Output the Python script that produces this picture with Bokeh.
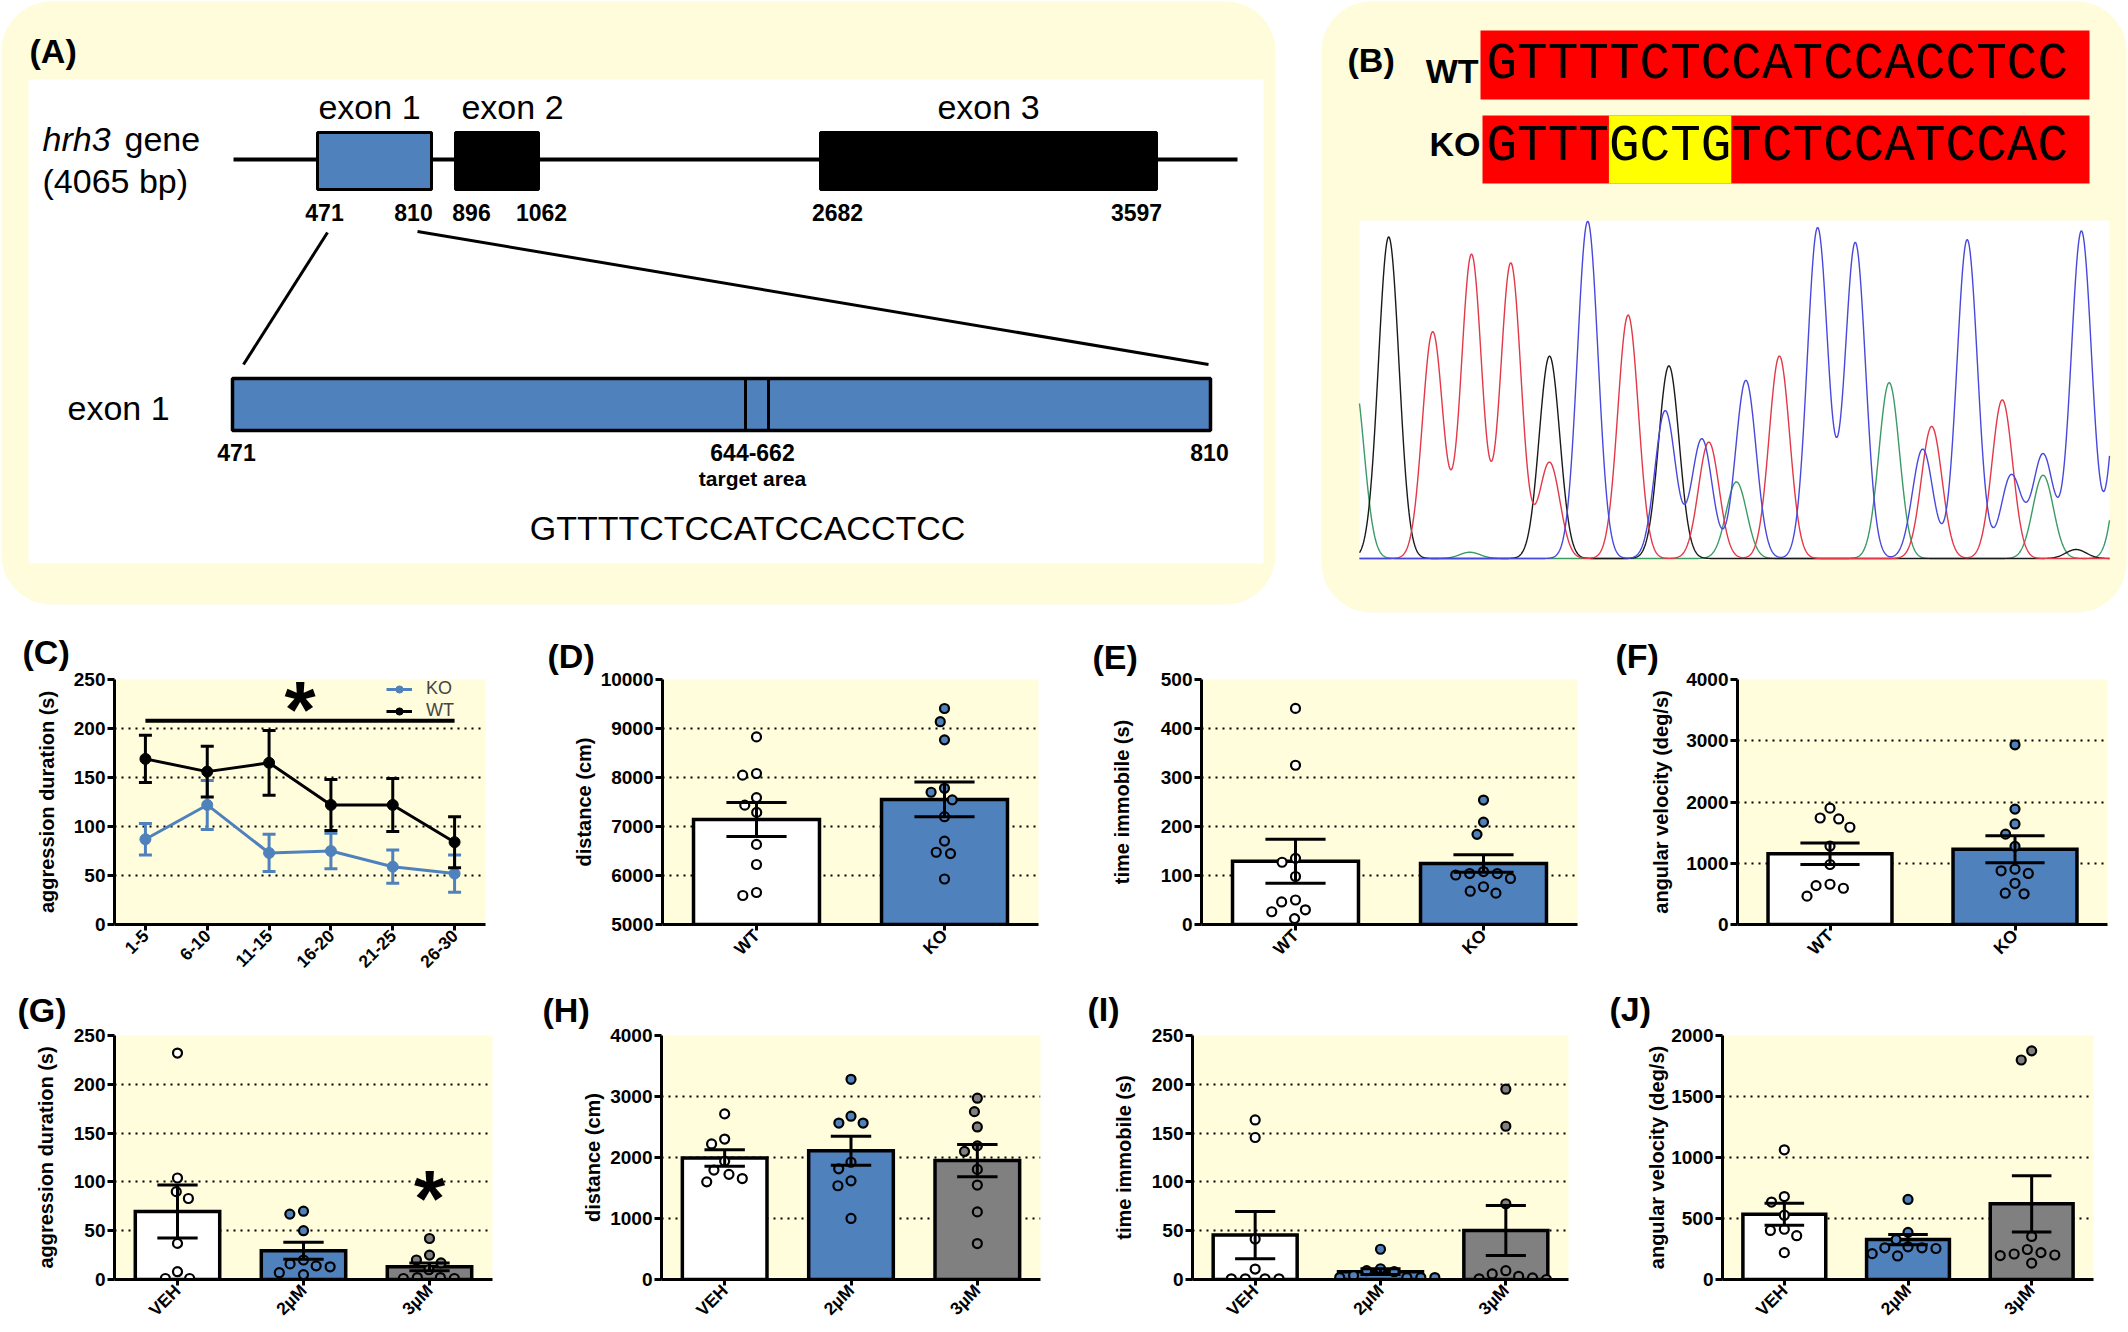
import numpy as np
from math import pi
from bokeh.plotting import figure
from bokeh.layouts import column, row
from bokeh.models import (Range1d, FixedTicker, BoxAnnotation, Legend, LegendItem,
                          CustomJSTickFormatter)
from bokeh.core.properties import value
from bokeh.embed import file_html
from bokeh.resources import INLINE

# ============================ DATA ============================
# (A) gene structure
gene_name = "hrh3"
gene_word = "gene"
gene_size_label = "(4065 bp)"
exon_labels = ["exon 1", "exon 2", "exon 3"]
exon_starts = [471, 896, 2682]
exon_ends = [810, 1062, 3597]
target_start, target_end = 644, 662
target_label = "target area"
target_sequence = "GTTTTCTCCATCCACCTCC"

# (B) sequences and chromatogram peaks (scan position, signal)
wt_sequence = "GTTTTCTCCATCCACCTCC"
ko_sequence = "GTTTGCTGTCTCCATCCAC"
ko_insert = (4, 8)
chrom_black_pos = [29.2, 190.0, 309.4, 716.6]
chrom_black_sig = [1646, 1036, 986, 46]
chrom_red_pos = [73.2, 112.0, 151.3, 190.0, 268.6, 349.3, 419.9, 572.2, 642.8]
chrom_red_sig = [1160, 1556, 1512, 492, 1246, 596, 1036, 676, 812]
chrom_blue_pos = [228.2, 305.7, 342.4, 386.4, 458.1, 495.8, 563.2, 607.7, 651.8, 683.6, 721.9, 765.0]
chrom_blue_sig = [1726, 756, 612, 912, 1692, 1616, 560, 1632, 426, 532, 1676, 1400]
chrom_green_pos = [-6.0, 110.4, 376.9, 529.7, 683.6, 768.0]
chrom_green_sig = [940, 32, 392, 900, 426, 900]

# (C) aggression over time
c_bins = ["1-5", "6-10", "11-15", "16-20", "21-25", "26-30"]
c_wt_mean = [169, 156, 165, 122, 122, 84]
c_wt_sem = [24, 26, 33, 26, 27, 26]
c_ko_mean = [87, 122, 73, 75, 59, 52]
c_ko_sem = [16, 25, 19, 18, 17, 19]
c_sig_span = ("1-5", "26-30")
c_sig_level = 208
c_sig_mark_level = 229

genotypes = ["WT", "KO"]
doses = ["VEH", "2µM", "3µM"]

# (D) distance
d_wt = [8829, 8082, 8048, 7590, 7436, 7288, 6635, 6225, 5592, 5653]
d_ko = [9408, 9139, 8768, 7779, 7699, 7544, 7200, 6702, 6474, 6447, 5929]
d_mean = [7143, 7553]
d_sem = [346, 353]
# (E) time immobile
e_wt = [441, 325, 135, 127, 98, 50, 46, 30, 26, 12]
e_ko = [254, 209, 184, 108, 104, 101, 104, 94, 77, 64, 68]
e_mean = [129, 124.5]
e_sem = [45, 18]
# (F) angular velocity
f_wt = [1900, 1723, 1739, 1588, 1281, 980, 635, 463, 592, 657]
f_ko = [2934, 1884, 1642, 1475, 1276, 877, 834, 904, 673, 501, 511]
f_mean = [1155, 1227]
f_sem = [175, 220]
# (G) aggression duration, drug
g_veh = [232, 104, 83, 90, 37, 8, 1, 1]
g_2um = [70, 67, 50, 20, 16, 13, 14, 7, 5]
g_3um = [42, 25, 20, 17, 10, 2, 1, 1, 2]
g_mean = [69.6, 29.4, 13]
g_sem = [27.2, 8.7, 4]
g_sig_group = "3µM"
g_sig_mark_level = 92
# (H) distance, drug
h_veh = [2715, 2302, 2222, 1938, 1794, 1724, 1655, 1601]
h_2um = [3282, 2565, 2565, 2677, 1922, 1815, 1617, 1537, 1001]
h_3um = [2972, 2752, 2501, 2190, 2099, 1805, 1548, 1108, 589]
h_mean = [1992, 2110, 1949]
h_sem = [137, 238, 265]
# (I) time immobile, drug
i_veh = [163.5, 145.5, 41.5, 10.7, 0.7, 0.7, 0.7, 0.7]
i_2um = [31, 9, 4, 11, 8, 2, 2, 2, 2]
i_3um = [195, 157, 77.6, 5.7, 1.7, 0, 0.7, 3.3, 9]
i_mean = [45.5, 8, 50.2]
i_sem = [24.3, 3, 25.6]
# (J) angular velocity, drug
j_veh = [1063, 680, 635, 527, 402, 412, 359, 220]
j_2um = [656, 386, 327, 260, 254, 260, 268, 193, 212]
j_3um = [1874, 1799, 353, 220, 201, 196, 209, 246, 134]
j_mean = [535, 327, 620]
j_sem = [90, 42, 230]

# ============================ STYLE / LAYOUT ============================
FONT = "Liberation Sans"
MONO = "Liberation Mono"
BOX_YELLOW = "#FEFCDA"
PLOT_BG = "#FFFDDC"
BLUE = "#4F81BD"
GREY = "#808080"
RED = "#FF0000"
HILITE = "#FFFF00"

PAGE_W = 2128
COLS = [(0, 530), (530, 1060), (1060, 1590), (1590, PAGE_W)]
TOP_ROW = (0, 618)
ROW1 = (618, 978)
ROW2 = (978, 1330)
FRAMES = {
    "C": (114, 485, 678, 924), "D": (662, 1038, 679, 927),
    "E": (1201, 1577, 679, 927), "F": (1737, 2107, 679, 927),
    "G": (114, 492, 1033, 1282), "H": (661, 1040, 1033, 1282),
    "I": (1192, 1568, 1035, 1284), "J": (1722, 2093, 1035, 1284),
}
# panel letters: left edge and top of the ink
LETTERS = {
    "C": (22, 637), "D": (547, 642), "E": (1092, 643), "F": (1615, 642),
    "G": (17, 988), "H": (542, 992), "I": (1087, 993), "J": (1609, 992),
}
LETTER_PX = 34
LETTER_BOX_H = 38
BAR_W = 0.67
CAP_HALF = 0.16
PEAK_SIGMA = 10.3
STAR_PX = 80
STAR_DY = 9
MID = {FONT: 0.3465, MONO: 0.2665}   # baseline lies this many em below a "middle" anchor


def txt(p, x, base, s, size, style="normal", align="left", font=FONT, color="black", **kw):
    """Place text so that its baseline sits at `base`."""
    p.text(x=[x], y=[base - MID[font] * size], text=[s], text_font=value(font),
           text_font_size=value(f"{size}px"), text_font_style=value(style),
           text_align=value(align), text_baseline=value("middle"),
           text_color=color, **kw)


def canvas_fig(y0, y1):
    p = figure(width=PAGE_W, height=y1 - y0, x_range=Range1d(0, PAGE_W), y_range=Range1d(y1, y0),
               output_backend="svg", toolbar_location=None, min_border=0)
    p.axis.visible = False
    p.grid.visible = False
    p.outline_line_color = None
    p.background_fill_color = "white"
    p.border_fill_color = "white"
    return p


# ============================ TOP (A, B) ============================
tt, tb = TOP_ROW
top = canvas_fig(tt, tb)

# --- panel A
top.add_layout(BoxAnnotation(left=1, right=1275, top=1, bottom=604, fill_color=BOX_YELLOW,
                             fill_alpha=1, line_color=None, border_radius=50, level="underlay"))
top.quad(left=[28], right=[1263], top=[79], bottom=[563], fill_color="white", line_color=None)
txt(top, 29, 62, "(A)", LETTER_PX, "bold")
top.line(x=[233, 1237], y=[159, 159], line_width=4, color="black")
EXON_PX = [(317, 431), (455, 538), (820, 1156)]
EXON_LABEL_X = [369, 512, 988]
top.quad(left=[a for a, b in EXON_PX], right=[b for a, b in EXON_PX], top=132, bottom=189,
         fill_color=[BLUE, "black", "black"], line_color="black", line_width=3)
for xx, lab in zip(EXON_LABEL_X, exon_labels):
    txt(top, xx, 118, lab, 34, align="center")
txt(top, 42, 150, gene_name, 34, "italic")
txt(top, 124, 150, gene_word, 34)
txt(top, 42, 192, gene_size_label, 34)
NUM_X = [324, 413, 471, 541, 837, 1136]
nums = []
for s, e in zip(exon_starts, exon_ends):
    nums += [s, e]
for xx, n in zip(NUM_X, nums):
    txt(top, xx, 220, str(n), 23, "bold", align="center")
top.segment(x0=[327, 417], y0=[232, 231], x1=[243, 1208], y1=[364, 364], line_width=3, color="black")
top.quad(left=[232], right=[1210], top=[378], bottom=[430], fill_color=BLUE,
         line_color="black", line_width=3.5)
top.segment(x0=[745, 768], x1=[745, 768], y0=[378, 378], y1=[430, 430], line_width=3, color="black")
txt(top, 67, 419, exon_labels[0], 34)
txt(top, 236, 460, str(exon_starts[0]), 23, "bold", align="center")
txt(top, 752, 460, f"{target_start}-{target_end}", 23, "bold", align="center")
txt(top, 1209, 460, str(exon_ends[0]), 23, "bold", align="center")
txt(top, 752, 485, target_label, 21, "bold", align="center")
txt(top, 747, 539, target_sequence, 34, align="center")

# --- panel B
top.add_layout(BoxAnnotation(left=1321, right=2126, top=1, bottom=612, fill_color=BOX_YELLOW,
                             fill_alpha=1, line_color=None, border_radius=50, level="underlay"))
txt(top, 1347, 71, "(B)", LETTER_PX, "bold")
txt(top, 1478, 82, "WT", 34, "bold", align="right")
txt(top, 1480, 155, "KO", 34, "bold", align="right")
SEQ_PX = 51
SEQ_LEFT = 1486
CHAR_W = 0.6 * SEQ_PX
top.quad(left=[1480, 1482], right=[2089, 2089], top=[30, 115], bottom=[99, 183],
         fill_color=RED, line_color=None)
top.quad(left=[SEQ_LEFT + ko_insert[0] * CHAR_W], right=[SEQ_LEFT + ko_insert[1] * CHAR_W],
         top=[115], bottom=[183], fill_color=HILITE, line_color=None)
txt(top, SEQ_LEFT, 78, wt_sequence, SEQ_PX, font=MONO)
txt(top, SEQ_LEFT, 160, ko_sequence, SEQ_PX, font=MONO)

# chromatogram (own scan / signal scales mapped onto the white box)
CH_L, CH_R, CH_T, CH_B = 1359, 2109, 220, 559
SCAN_SPAN = 750.0
SIG_TOP = 1730.0
px_scan = (CH_R - CH_L) / SCAN_SPAN
base_y = CH_B - 1
px_sig = (base_y - CH_T) / SIG_TOP
top.extra_x_ranges = {"scan": Range1d(-(CH_L - 0) / px_scan, SCAN_SPAN + (PAGE_W - CH_R) / px_scan)}
top.extra_y_ranges = {"sig": Range1d(-(tb - base_y) / px_sig, (base_y - tt) / px_sig)}
top.quad(left=[CH_L], right=[CH_R], top=[CH_T], bottom=[CH_B], fill_color="white", line_color=None)
scan = np.linspace(0, SCAN_SPAN, 1501)


def trace(pos, sig):
    out = np.zeros_like(scan)
    for c, a in zip(pos, sig):
        out += a * np.exp(-(scan - c) ** 2 / (2 * PEAK_SIGMA ** 2))
    return out


for pos, sig, col in [(chrom_green_pos, chrom_green_sig, "#3C9A64"),
                      (chrom_black_pos, chrom_black_sig, "#1A1A1A"),
                      (chrom_red_pos, chrom_red_sig, "#E23848"),
                      (chrom_blue_pos, chrom_blue_sig, "#4848DC")]:
    top.line(x=scan, y=trace(pos, sig), line_width=1.4, color=col,
             x_range_name="scan", y_range_name="sig")


# ============================ CHART PANELS ============================
def make_fig(key, col, rw, xr, yr):
    cl, cr = col
    rt, rb = rw
    fl, fr, ft, fb = FRAMES[key]
    lx, ink_top = LETTERS[key]
    border_top = ft - rt
    standoff = 2 * (ft - LETTER_BOX_H - (ink_top - 6))
    standoff = max(0, min(standoff, border_top - LETTER_BOX_H - 4))
    p = figure(width=cr - cl, height=rb - rt, x_range=Range1d(*xr), y_range=Range1d(*yr),
               output_backend="svg", toolbar_location=None, title=f"({key})",
               min_border_left=fl - cl, min_border_right=cr - fr,
               min_border_top=border_top, min_border_bottom=rb - fb)
    p.title.align = "left"
    p.title.offset = lx - fl
    p.title.standoff = standoff
    p.title.vertical_align = "bottom"
    p.title.text_font = FONT
    p.title.text_font_size = f"{LETTER_PX}px"
    p.title.text_font_style = "bold"
    p.title.text_color = "black"
    p.background_fill_color = PLOT_BG
    p.border_fill_color = "white"
    p.outline_line_color = None
    return p


def style_axes(p, yticks, ylabel, standoff, labels, xstandoff=2):
    for ax in (p.xaxis[0], p.yaxis[0]):
        ax.axis_line_width = 3
        ax.axis_line_color = "black"
        ax.major_tick_line_width = 3
        ax.major_tick_line_color = "black"
        ax.major_tick_in = 0
        ax.minor_tick_line_color = None
        ax.major_label_text_font = FONT
        ax.major_label_text_font_style = "bold"
        ax.major_label_text_color = "black"
    yax = p.yaxis[0]
    yax.major_tick_out = 7
    yax.ticker = FixedTicker(ticks=yticks)
    p.ygrid.ticker = FixedTicker(ticks=yticks)
    yax.major_label_text_font_size = "19px"
    yax.major_label_standoff = 2
    yax.axis_label = ylabel
    yax.axis_label_text_font = FONT
    yax.axis_label_text_font_size = "20px"
    yax.axis_label_text_font_style = "bold"
    yax.axis_label_text_color = "black"
    yax.axis_label_standoff = standoff
    xax = p.xaxis[0]
    xax.major_tick_out = 6
    xax.ticker = FixedTicker(ticks=list(range(len(labels))))
    xax.formatter = CustomJSTickFormatter(
        args=dict(labels=list(labels)),
        code="const i = Math.round(tick); return (i >= 0 && i < labels.length) ? labels[i] : '';")
    xax.major_label_orientation = pi / 4
    xax.major_label_text_font_size = "17.5px"
    xax.major_label_standoff = xstandoff
    p.xgrid.visible = False
    p.ygrid.grid_line_color = "black"
    p.ygrid.grid_line_dash = "2 5"
    p.ygrid.grid_line_width = 2


def swarm(vals, px_y, px_x, dist=14.0):
    order = sorted(range(len(vals)), key=lambda i: -vals[i])
    placed = []
    xs = [0.0] * len(vals)
    for i in order:
        y = vals[i] * px_y
        cands = [0.0]
        for (qx, qy) in placed:
            dy = abs(qy - y)
            if dy < dist:
                dx = (dist ** 2 - dy ** 2) ** 0.5
                cands += [qx + dx, qx - dx]
        cands.sort(key=lambda c: (round(abs(c), 6), c))
        for c in cands:
            if all((c - qx) ** 2 + (y - qy) ** 2 >= dist ** 2 - 1e-6 for qx, qy in placed):
                xs[i] = c
                placed.append((c, y))
                break
    return [x / px_x for x in xs]


def star(p, x, y):
    p.text(x=[x], y=[y], text=["*"], text_font=value(FONT),
           text_font_size=value(f"{STAR_PX}px"), text_font_style=value("bold"),
           text_align=value("center"), text_baseline=value("middle"),
           y_offset=STAR_DY, text_color="black")


def bar_panel(key, col, rw, cats, groups, means, sems, fills, yr, yticks, ylabel, standoff, sig=None):
    n = len(cats)
    p = make_fig(key, col, rw, (-0.5, n - 0.5), yr)
    style_axes(p, yticks, ylabel, standoff, cats)
    fl, fr, ft, fb = FRAMES[key]
    px_y = (fb - ft) / (yr[1] - yr[0])
    px_x = (fr - fl) / n
    xs = list(range(n))
    p.vbar(x=xs, top=means, bottom=yr[0], width=BAR_W, fill_color=fills,
           line_color="black", line_width=3.5, line_join="miter")
    for i, (vals, fc) in enumerate(zip(groups, fills)):
        offs = swarm(vals, px_y, px_x)
        p.scatter(x=[i + o for o in offs], y=vals, size=9, marker="circle",
                  fill_color=fc, line_color="black", line_width=2.2)
    up = [m + s for m, s in zip(means, sems)]
    lo = [m - s for m, s in zip(means, sems)]
    p.segment(x0=xs, x1=xs, y0=lo, y1=up, line_width=3, color="black")
    p.segment(x0=[x - CAP_HALF for x in xs], x1=[x + CAP_HALF for x in xs], y0=up, y1=up,
              line_width=3, color="black")
    p.segment(x0=[x - CAP_HALF for x in xs], x1=[x + CAP_HALF for x in xs], y0=lo, y1=lo,
              line_width=3, color="black")
    if sig is not None:
        g, lvl = sig
        star(p, cats.index(g), lvl)
    return p


# ---- (C)
pc = make_fig("C", COLS[0], ROW1, (-0.5, len(c_bins) - 0.5), (0, 250))
style_axes(pc, [0, 50, 100, 150, 200, 250], "aggression duration (s)", 13, c_bins)
cx = list(range(len(c_bins)))
C_CAP = 0.105
items = []
for lab, mean, sem, colr in [("KO", c_ko_mean, c_ko_sem, BLUE), ("WT", c_wt_mean, c_wt_sem, "black")]:
    up = [m + s for m, s in zip(mean, sem)]
    lo = [m - s for m, s in zip(mean, sem)]
    rl = pc.line(x=cx, y=mean, line_width=3, color=colr)
    pc.segment(x0=cx, x1=cx, y0=lo, y1=up, line_width=3, color=colr)
    pc.segment(x0=[x - C_CAP for x in cx], x1=[x + C_CAP for x in cx], y0=up, y1=up, line_width=3, color=colr)
    pc.segment(x0=[x - C_CAP for x in cx], x1=[x + C_CAP for x in cx], y0=lo, y1=lo, line_width=3, color=colr)
    rs = pc.scatter(x=cx, y=mean, size=11, marker="circle", fill_color=colr, line_color=colr)
    items.append(LegendItem(label=lab, renderers=[rl, rs]))
i0, i1 = c_bins.index(c_sig_span[0]), c_bins.index(c_sig_span[1])
pc.segment(x0=[i0], x1=[i1], y0=[c_sig_level], y1=[c_sig_level], line_width=4, color="black")
star(pc, (i0 + i1) / 2, c_sig_mark_level)
cfl, cfr, cft, cfb = FRAMES["C"]
leg = Legend(items=items, location=(272, (cfb - cft) - 43), background_fill_alpha=0,
             border_line_color=None, label_text_font=FONT, label_text_font_size="18px",
             glyph_width=26, glyph_height=18, label_height=19, spacing=1, padding=0,
             margin=0, label_standoff=14)
pc.add_layout(leg)

pd_ = bar_panel("D", COLS[1], ROW1, genotypes, [d_wt, d_ko], d_mean, d_sem, ["white", BLUE],
                (5000, 10000), list(range(5000, 10001, 1000)), "distance (cm)", 3)
pe = bar_panel("E", COLS[2], ROW1, genotypes, [e_wt, e_ko], e_mean, e_sem, ["white", BLUE],
               (0, 500), list(range(0, 501, 100)), "time immobile (s)", 25)
pf = bar_panel("F", COLS[3], ROW1, genotypes, [f_wt, f_ko], f_mean, f_sem, ["white", BLUE],
               (0, 4000), list(range(0, 4001, 1000)), "angular velocity (deg/s)", 11)
pg = bar_panel("G", COLS[0], ROW2, doses, [g_veh, g_2um, g_3um], g_mean, g_sem, ["white", BLUE, GREY],
               (0, 250), list(range(0, 251, 50)), "aggression duration (s)", 14,
               sig=(g_sig_group, g_sig_mark_level))
ph = bar_panel("H", COLS[1], ROW2, doses, [h_veh, h_2um, h_3um], h_mean, h_sem, ["white", BLUE, GREY],
               (0, 4000), list(range(0, 4001, 1000)), "distance (cm)", 3)
pi_ = bar_panel("I", COLS[2], ROW2, doses, [i_veh, i_2um, i_3um], i_mean, i_sem, ["white", BLUE, GREY],
                (0, 250), list(range(0, 251, 50)), "time immobile (s)", 14)
pj = bar_panel("J", COLS[3], ROW2, doses, [j_veh, j_2um, j_3um], j_mean, j_sem, ["white", BLUE, GREY],
               (0, 2000), list(range(0, 2001, 500)), "angular velocity (deg/s)", 0)

layout = column(top, row(pc, pd_, pe, pf), row(pg, ph, pi_, pj))
open("out.html", "w").write(file_html(layout, INLINE, title="hrh3 knockout"))
